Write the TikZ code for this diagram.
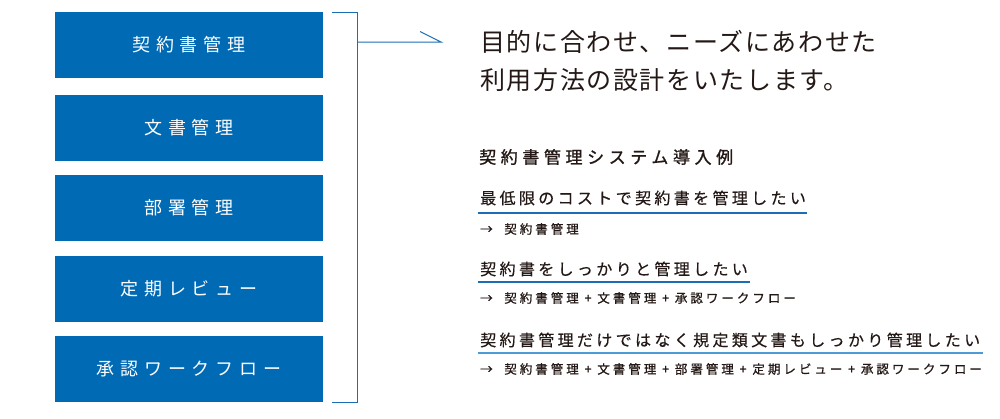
\documentclass[tikz,border=0pt]{standalone}
\usepackage{fontspec}
\setmainfont{Noto Sans CJK JP}
\newfontfamily\boxfont[LetterSpace=33]{Noto Sans CJK JP}
\newfontfamily\headfont[LetterSpace=6.5]{Noto Sans CJK JP}
\newfontfamily\subfont[LetterSpace=27,FakeBold=1.2]{Noto Sans CJK JP}
\newfontfamily\casefont[LetterSpace=21,FakeBold=0.4]{Noto Sans CJK JP}
\newfontfamily\smallfont[LetterSpace=24,FakeBold=0.8]{Noto Sans CJK JP}
\definecolor{boxblue}{HTML}{006AB4}
\definecolor{lineblue}{HTML}{1C6EB4}
\definecolor{lightblue}{HTML}{4C9BD6}
\definecolor{ink}{HTML}{231815}
\begin{document}
\begin{tikzpicture}[x=1pt,y=-1pt,
  funcbox/.style={fill=boxblue,draw=none,minimum width=268pt,minimum height=66pt,
    inner sep=0pt,text=white,font=\boxfont\fontsize{18}{20}\selectfont},
  headtext/.style={anchor=west,inner sep=0pt,text=ink,font=\headfont\fontsize{25}{28}\selectfont},
  subtext/.style={anchor=west,inner sep=0pt,text=ink,font=\subfont\fontsize{17}{20}\selectfont},
  casetext/.style={anchor=west,inner sep=0pt,text=ink,font=\casefont\fontsize{16}{19}\selectfont},
  resulttext/.style={anchor=west,inner sep=0pt,text=ink,font=\smallfont\fontsize{12.5}{14}\selectfont},
  bracket/.style={draw=lineblue,line width=1pt},
  uline/.style={draw=lineblue,line width=1.2pt}]
\useasboundingbox (0,0) rectangle (1000,418);
\node[funcbox] (b1) at (189,45) {契約書管理};
\node[funcbox] (b2) at (189,127.5) {文書管理};
\node[funcbox] (b3) at (189,208) {部署管理};
\node[funcbox] (b4) at (189,289) {定期レビュー};
\node[funcbox] (b5) at (189,369) {承認ワークフロー};
\coordinate (bt) at (332,12);
\coordinate (btr) at (357,12);
\coordinate (bbr) at (357,402);
\coordinate (bb) at (332,402);
\draw[bracket] (bt) -- (btr) -- (bbr) -- (bb);
\coordinate (am) at (357,42);
\coordinate (ae) at (441,42);
\coordinate (ab) at (420,31.5);
\draw[bracket] (am) -- (ae) -- (ab);
\node[headtext] (h1) at (480,42) {目的に合わせ、ニーズにあわせた};
\node[headtext] (h2) at (480,80) {利用方法の設計をいたします。};
\node[subtext] (s) at (479,157) {契約書管理システム導入例};
\node[casetext] (c1) at (480,198) {最低限のコストで契約書を管理したい};
\coordinate (u1a) at (478,213); \coordinate (u1b) at (807,213);
\draw[uline] (u1a) -- (u1b);
\node[resulttext] (r1) at (480,229) {→\ \ 契約書管理};
\node[casetext] (c2) at (480,269) {契約書をしっかりと管理したい};
\coordinate (u2a) at (478,282); \coordinate (u2b) at (750,282);
\draw[uline] (u2a) -- (u2b);
\node[resulttext] (r2) at (480,298) {→\ \ 契約書管理 + 文書管理 + 承認ワークフロー};
\node[casetext] (c3) at (480,340) {契約書管理だけではなく規定類文書もしっかり管理したい};
\coordinate (u3a) at (478,353); \coordinate (u3b) at (983,353);
\draw[uline,draw=lightblue] (u3a) -- (u3b);
\node[resulttext] (r3) at (480,369) {→\ \ 契約書管理 + 文書管理 + 部署管理 + 定期レビュー + 承認ワークフロー};
\end{tikzpicture}
\end{document}
